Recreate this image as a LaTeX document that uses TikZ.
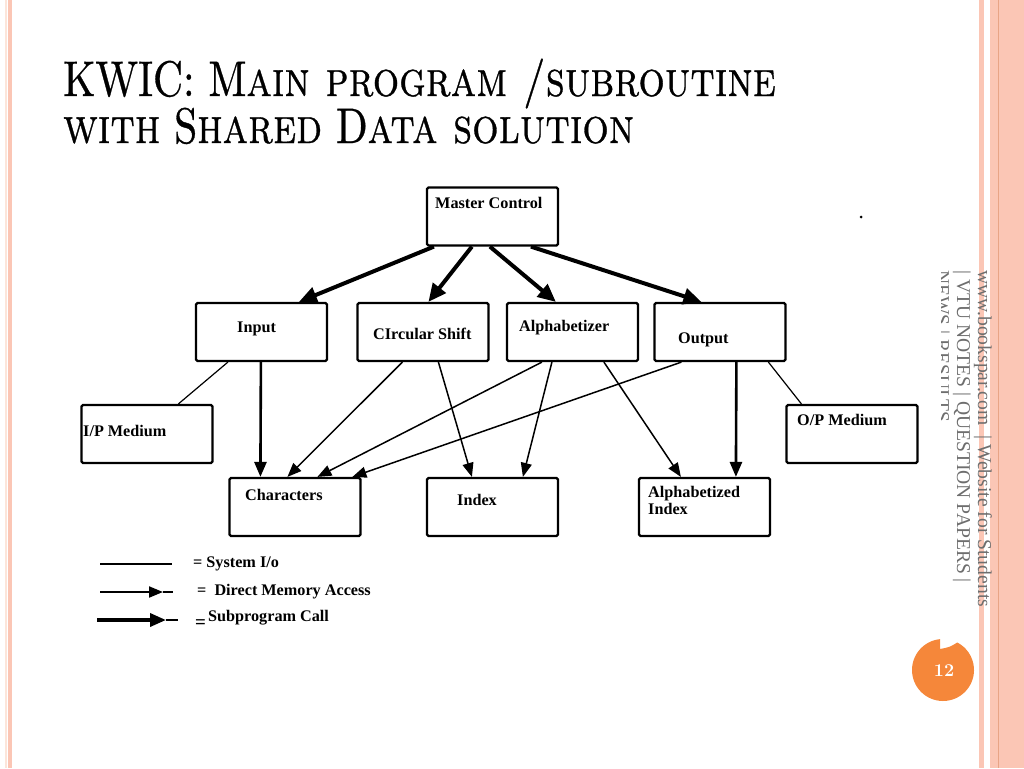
\documentclass[tikz,border=0pt]{standalone}
\usepackage{fontspec}
\newfontfamily\diafont{Liberation Serif}
\newfontfamily\titlefont{lmroman10-regular.otf}[FakeBold=0.7, SmallCapsFont=lmromancaps10-regular.otf, SmallCapsFeatures={FakeBold=0.7}]
\usetikzlibrary{arrows.meta}

\definecolor{stripe}{HTML}{FBC6B5}
\definecolor{stripelight}{HTML}{FCE5DA}
\definecolor{stripedark}{HTML}{E8A486}
\definecolor{pgnum}{HTML}{F5873A}
\definecolor{wmgray}{HTML}{6E6E6E}

\tikzset{
  box/.style={draw, line width=2.2pt, rounded corners=1.5pt, minimum width=131pt, minimum height=58pt, inner sep=0pt},
  boxtext/.style={anchor=base west, inner sep=0pt, font=\diafont\bfseries\fontsize{16.2}{17.5}\selectfont},
  titletext/.style={anchor=base west, inner sep=0pt, xscale=0.83, transform shape, font=\titlefont\fontsize{50}{47}\selectfont},
  call/.style={line width=4pt, -{Triangle[length=18pt,width=16pt]}},
  access/.style={line width=1.5pt, -{Triangle[length=14pt,width=11pt]}},
  bigaccess/.style={line width=2.6pt, -{Triangle[length=15pt,width=12pt]}},
  sysio/.style={line width=1.2pt}
}

\begin{document}
\begin{tikzpicture}[x=1pt,y=-1pt]
\useasboundingbox (0,0) rectangle (1024,768);
% slide border
\fill[stripelight] (5,0) rectangle (7,768);
\fill[stripe] (8,0) rectangle (12,768);
\fill[stripe] (979,0) rectangle (984,768);
\fill[stripe] (990,0) rectangle (1024,768);
\draw[stripedark, line width=1pt] (998.5,0) -- (998.5,768);

% title
\node[titletext] (title a) at (63,96) {KWIC: M\textsc{ain program /subroutine}};
\node[titletext] (title b) at (63,143) {\textsc{with} S\textsc{hared} D\textsc{ata solution}};

% boxes
\node[box] (mc) at (492.5,216.5) {};
\node[box] (input) at (261.5,332) {};
\node[box] (cshift) at (423,332) {};
\node[box] (alpha) at (572.5,332) {};
\node[box] (output) at (720,332) {};
\node[box] (ipm) at (147,434) {};
\node[box] (opm) at (852,434) {};
\node[box] (chars) at (295,507) {};
\node[box] (index) at (492.5,507) {};
\node[box] (aidx) at (704.5,507) {};

\node[boxtext] (mc text) at (435,208) {Master Control};
\node[boxtext] (input text) at (237,332) {Input};
\node[boxtext] (cshift text) at (373,339) {CIrcular Shift};
\node[boxtext] (alpha text) at (519,331) {Alphabetizer};
\node[boxtext] (output text) at (678,343) {Output};
\node[boxtext] (ipm text) at (83,436) {I/P Medium};
\node[boxtext] (opm text) at (797,425) {O/P Medium};
\node[boxtext] (chars text) at (245,500) {Characters};
\node[boxtext] (index text) at (457,505) {Index};
\node[boxtext, anchor=north west, align=left] (aidx text) at (648,486) {Alphabetized\\Index};

% subprogram calls
\draw[call] ([xshift=8pt]mc.south west) -- ([xshift=104pt]input.north west);
\draw[call] ([xshift=46pt]mc.south west) -- ([xshift=72pt]cshift.north west);
\draw[call] ([xshift=64pt]mc.south west) -- ([xshift=50pt]alpha.north west);
\draw[call] ([xshift=105pt]mc.south west) -- ([xshift=48pt]output.north west);

% system i/o
\draw[sysio] ([xshift=33pt]input.south west) -- ([xshift=98pt]ipm.north west);
\draw[sysio] ([xshift=115pt]output.south west) -- ([xshift=16pt]opm.north west);

% direct memory access
\draw[bigaccess] ([xshift=66pt]input.south west) -- ([xshift=32pt]chars.north west);
\draw[bigaccess] ([xshift=83pt]output.south west) -- ([xshift=98pt]aidx.north west);
\draw[access] ([xshift=46pt]cshift.south west) -- ([xshift=59pt]chars.north west);
\draw[access] ([xshift=82pt]cshift.south west) -- ([xshift=46pt]index.north west);
\draw[access] ([xshift=36pt]alpha.south west) -- ([xshift=89pt]chars.north west);
\draw[access] ([xshift=46pt]alpha.south west) -- ([xshift=97pt]index.north west);
\draw[access] ([xshift=98pt]alpha.south west) -- ([xshift=43pt]aidx.north west);
\draw[access] ([xshift=28pt]output.south west) -- ([xshift=124pt]chars.north west);

\fill (861,217) circle (1.5);

% legend
\coordinate (sys a) at (100,564);
\coordinate (sys b) at (172,564);
\coordinate (dma a) at (100,592);
\coordinate (dma m) at (163,592);
\coordinate (dma b) at (173,592);
\coordinate (sub a) at (97,620);
\coordinate (sub m) at (166,620);
\coordinate (sub b) at (178,620);
\draw[line width=2pt] (sys a) -- (sys b);
\draw[line width=2pt, -{Triangle[length=14pt,width=11pt]}] (dma a) -- (dma m);
\draw[line width=2pt] (dma m) -- (dma b);
\draw[line width=3.5pt, -{Triangle[length=16pt,width=13pt]}] (sub a) -- (sub m);
\draw[line width=2pt] (sub m) -- (sub b);
\node[boxtext] (sys text) at (193,567) {= System I/o};
\node[boxtext] (dma text) at (197,595) {=~~Direct Memory Access};
\node[boxtext, font=\diafont\bfseries\fontsize{19}{20}\selectfont] (sub eq) at (195,628) {=};
\node[boxtext] (sub text) at (208,621) {Subprogram Call};

% side watermark
\begin{scope}
\clip (941,0) rectangle (1024,768);
\node[rotate=-90, anchor=north west, align=left, inner sep=0pt, text=wmgray,
  font=\diafont\fontsize{19.6}{21}\selectfont] (wm) at (992,270)
  {www.bookspar.com \ | Website for Students\\ | VTU NOTES | QUESTION PAPERS |\\ NEWS | RESULTS};
\end{scope}

% page number
\fill[pgnum] (943,670) ++(-95.5:31) arc[start angle=-95.5, end angle=-422.6, radius=31]
  .. controls (950,647) .. (940,649) -- cycle;
\node[text=white, font=\rmfamily\bfseries\fontsize{18}{20}\selectfont] (pg) at (944,671) {12};
\end{tikzpicture}
\end{document}
